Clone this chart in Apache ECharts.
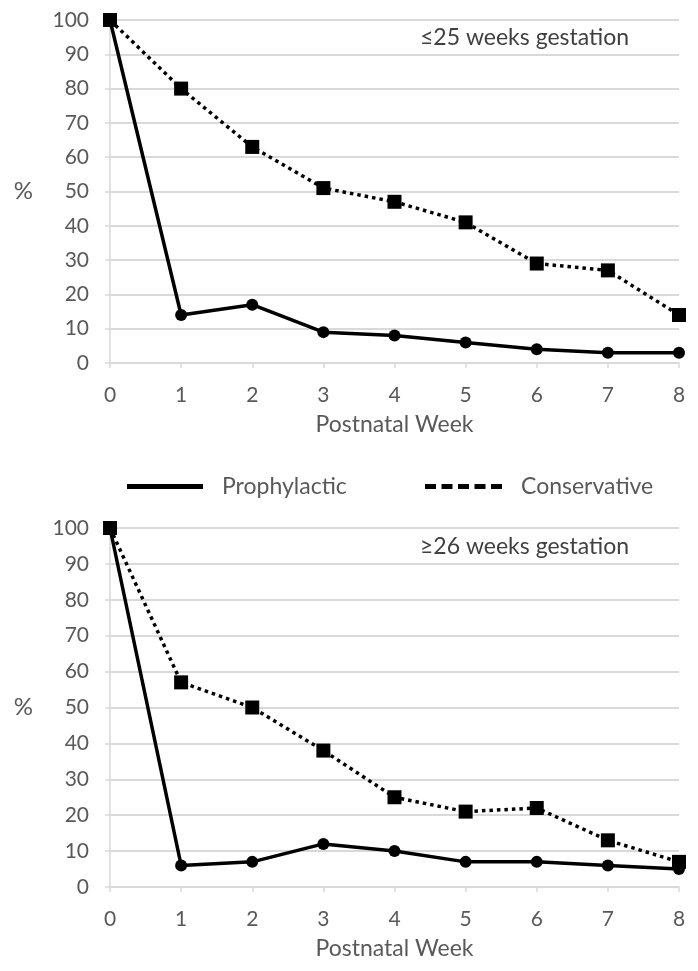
<!DOCTYPE html>
<html>
<head>
<meta charset="utf-8">
<script src="https://cdn.jsdelivr.net/npm/echarts@6/dist/echarts.min.js"></script>
<style>
html,body{margin:0;padding:0;background:#fff;}
#c{width:698px;height:971px;}
</style>
</head>
<body>
<div id="c"></div>
<script>
var weeks = ['0','1','2','3','4','5','6','7','8'];
var yTicks = [0,10,20,30,40,50,60,70,80,90,100];
var topTitle = '\u226425 weeks gestation';
var bottomTitle = '\u226526 weeks gestation';
var topProphylactic = [100, 14, 17, 9, 8, 6, 4, 3, 3];
var topConservative = [100, 80, 63, 51, 47, 41, 29, 27, 14];
var bottomProphylactic = [100, 6, 7, 12, 10, 7, 7, 6, 5];
var bottomConservative = [100, 57, 50, 38, 25, 21, 22, 13, 7];

var FONT = 'Lato';
var gridColor = '#d9d9d9';
var labelColor = '#595959';

function xAxisCfg(gridIndex){
  return {
    type: 'category', gridIndex: gridIndex, data: weeks, boundaryGap: false,
    name: 'Postnatal Week', nameLocation: 'middle', nameGap: 50,
    nameTextStyle: {fontFamily: FONT, fontSize: 23, color: labelColor},
    axisLine: {show: true, lineStyle: {color: gridColor, width: 1.5}},
    axisTick: {show: true, length: 5, alignWithLabel: true, lineStyle: {color: gridColor, width: 1.5}},
    axisLabel: {fontFamily: FONT, fontSize: 21, color: labelColor, margin: 22},
    splitLine: {show: false}
  };
}
function yAxisCfg(gridIndex){
  return {
    type: 'value', gridIndex: gridIndex, min: yTicks[0], max: yTicks[yTicks.length-1], interval: 10,
    name: '%', nameLocation: 'middle', nameRotate: 0, nameGap: 77,
    nameTextStyle: {fontFamily: FONT, fontSize: 24, color: labelColor},
    axisLine: {show: true, lineStyle: {color: gridColor, width: 1.5}},
    axisTick: {show: true, length: 5, lineStyle: {color: gridColor, width: 1.5}},
    axisLabel: {fontFamily: FONT, fontSize: 21, color: labelColor, margin: 21},
    splitLine: {show: true, lineStyle: {color: gridColor, width: 2}}
  };
}
function proSeries(idx, data){
  return {
    name: 'Prophylactic', type: 'line', xAxisIndex: idx, yAxisIndex: idx, data: data,
    symbol: 'circle', symbolSize: 12, z: 3,
    itemStyle: {color: '#000'},
    lineStyle: {color: '#000', width: 3.5, type: 'solid'},
    emphasis: {disabled: true}
  };
}
function conSeries(idx, data){
  return {
    name: 'Conservative', type: 'line', xAxisIndex: idx, yAxisIndex: idx, data: data,
    symbol: 'rect', symbolSize: 14, z: 4,
    itemStyle: {color: '#000'},
    lineStyle: {color: '#000', width: 3.5, type: [3.5, 4]},
    emphasis: {disabled: true}
  };
}

var chart = echarts.init(document.getElementById('c'), null, {renderer: 'canvas'});
chart.setOption({
  animation: false,
  backgroundColor: '#fff',
  title: [
    {text: topTitle, left: 415, top: 21, textStyle: {fontFamily: FONT, fontSize: 23, fontWeight: 'normal', color: '#404040'}},
    {text: bottomTitle, left: 415, top: 530, textStyle: {fontFamily: FONT, fontSize: 23, fontWeight: 'normal', color: '#404040'}}
  ],
  legend: [
    {data: [{name: 'Prophylactic', icon: 'path://M0,0H76V5H0Z'}], left: 122, top: 470,
     itemWidth: 76, itemHeight: 5, selectedMode: false,
     itemStyle: {color: '#000'},
     textStyle: {fontFamily: FONT, fontSize: 23, color: labelColor, padding: [0,0,0,14]}},
    {data: [{name: 'Conservative', icon: 'path://M0,0H11V5H0Z M16.5,0H27.5V5H16.5Z M33,0H44V5H33Z M49.5,0H60.5V5H49.5Z M66,0H77V5H66Z'}], left: 420, top: 470,
     itemWidth: 77, itemHeight: 5, selectedMode: false,
     itemStyle: {color: '#000'},
     textStyle: {fontFamily: FONT, fontSize: 23, color: labelColor, padding: [0,0,0,14]}}
  ],
  grid: [
    {left: 110, right: 19, top: 20, height: 343},
    {left: 110, right: 19, top: 528, height: 359}
  ],
  xAxis: [xAxisCfg(0), xAxisCfg(1)],
  yAxis: [yAxisCfg(0), yAxisCfg(1)],
  series: [
    proSeries(0, topProphylactic),
    conSeries(0, topConservative),
    proSeries(1, bottomProphylactic),
    conSeries(1, bottomConservative)
  ]
});
</script>
</body>
</html>
